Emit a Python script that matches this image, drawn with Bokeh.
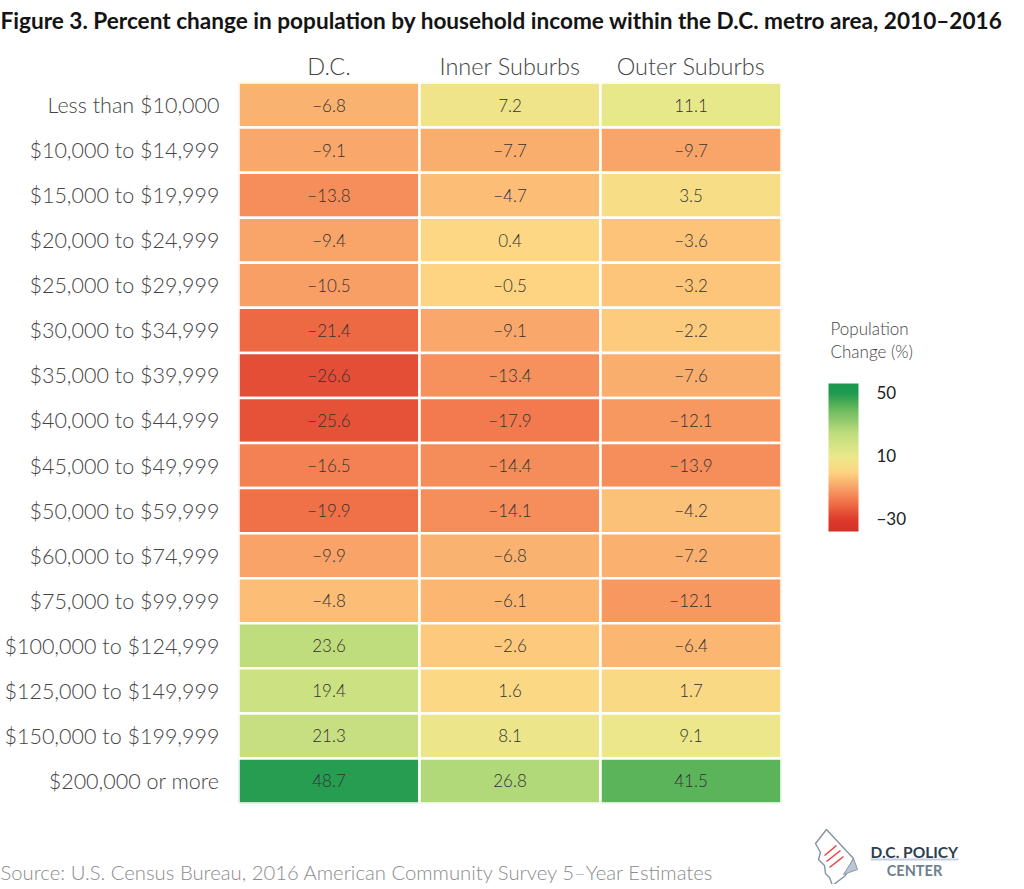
import numpy as np
from bokeh.plotting import figure
from bokeh.layouts import column, row
from bokeh.models import (ColumnDataSource, LinearColorMapper, ColorBar, FixedTicker, Range1d)
from bokeh.transform import transform
from bokeh.embed import file_html
from bokeh.resources import INLINE
from bokeh.core.properties import value

# ---------------- data ----------------
income_brackets = ["Less than $10,000", "$10,000 to $14,999", "$15,000 to $19,999",
                   "$20,000 to $24,999", "$25,000 to $29,999", "$30,000 to $34,999",
                   "$35,000 to $39,999", "$40,000 to $44,999", "$45,000 to $49,999",
                   "$50,000 to $59,999", "$60,000 to $74,999", "$75,000 to $99,999",
                   "$100,000 to $124,999", "$125,000 to $149,999", "$150,000 to $199,999",
                   "$200,000 or more"]
areas = ["D.C.", "Inner Suburbs", "Outer Suburbs"]
dc_change = [-6.8, -9.1, -13.8, -9.4, -10.5, -21.4, -26.6, -25.6, -16.5, -19.9, -9.9, -4.8,
             23.6, 19.4, 21.3, 48.7]
inner_change = [7.2, -7.7, -4.7, 0.4, -0.5, -9.1, -13.4, -17.9, -14.4, -14.1, -6.8, -6.1,
                -2.6, 1.6, 8.1, 26.8]
outer_change = [11.1, -9.7, 3.5, -3.6, -3.2, -2.2, -7.6, -12.1, -13.9, -4.2, -7.2, -12.1,
                -6.4, 1.7, 9.1, 41.5]
legend_ticks = [-30, 10, 50]

TITLE = "Figure 3. Percent change in population by household income within the D.C. metro area, 2010\u20132016"
SOURCE = "Source:  U.S. Census Bureau, 2016 American Community Survey 5\u2013Year Estimates"
LEGEND_TITLE = ["Population", "Change (%)"]

# ---------------- colour scale (style) ----------------
stop_vals = [-38, -30, -20, -10, 0, 10, 25, 40, 50, 56]
stop_cols = ["#d73027", "#dd3d2d", "#f07048", "#f9a368", "#fed683", "#e9e98b",
             "#bcdc7d", "#68b95c", "#1f9a50", "#1a9850"]
low, high = -38, 56


def hex2rgb(h):
    return [int(h[i:i + 2], 16) for i in (1, 3, 5)]


rgb = np.array([hex2rgb(c) for c in stop_cols], dtype=float)
palette = []
for v in np.linspace(low, high, 256):
    r, g, b = (np.interp(v, stop_vals, rgb[:, k]) for k in range(3))
    palette.append("#%02x%02x%02x" % (int(round(r)), int(round(g)), int(round(b))))
mapper = LinearColorMapper(palette=palette, low=low, high=high)

LIGHT = "Lato Light"
FONT = "Lato"
W = 1016
H_HEAD, H_MAIN, H_FOOT = 48, 760, 76
B_TOP, B_BOT = 34, 5
W_MAIN = 789
W_LEG = W - W_MAIN


def blank(width, height, y0=0, y1=None):
    if y1 is None:
        y1 = height
    f = figure(width=width, height=height, x_range=Range1d(0, width),
               y_range=Range1d(y1, y0), output_backend="svg", toolbar_location=None,
               min_border=0, outline_line_color=None, title=None)
    f.axis.visible = False
    f.grid.visible = False
    f.background_fill_color = "white"
    f.border_fill_color = "white"
    return f


# ---------------- header ----------------
head = blank(W, H_HEAD)
head.text(x=[0], y=[20], text=[TITLE], text_font=value(FONT), text_font_style="bold",
          text_font_size="22.6px", text_color="#141414", text_baseline="middle")

# ---------------- heatmap ----------------
xs, ys, vs, labels = [], [], [], []
for area, series in zip(areas, [dc_change, inner_change, outer_change]):
    for inc, v in zip(income_brackets, series):
        xs.append(area)
        ys.append(inc)
        vs.append(v)
        labels.append(("%.1f" % v).replace("-", "\u2212"))
src = ColumnDataSource(dict(area=xs, income=ys, val=vs, label=labels))

p = figure(width=W_MAIN, height=H_MAIN, x_range=areas, y_range=list(reversed(income_brackets)),
           x_axis_location="above", output_backend="svg", toolbar_location=None,
           min_border_left=238, min_border_right=8, min_border_top=B_TOP,
           min_border_bottom=B_BOT, title=None)
p.outline_line_color = None
p.grid.grid_line_color = None
p.background_fill_color = "white"
p.border_fill_color = "white"

p.rect(x="area", y="income", width=1, height=1, source=src,
       fill_color=transform("val", mapper), line_color="white", line_width=2.5)
p.text(x="area", y="income", text="label", source=src, text_align="center",
       text_baseline="middle", text_font=value(LIGHT), text_font_size="17px",
       text_color="#333333")

for ax in (p.xaxis, p.yaxis):
    ax.axis_line_color = None
    ax.major_tick_line_color = None
    ax.minor_tick_line_color = None
    ax.major_tick_out = 0
    ax.major_tick_in = 0
    ax.major_label_text_font = LIGHT
    ax.major_label_text_color = "#444444"
p.yaxis.major_label_text_font_size = "21.5px"
p.xaxis.major_label_text_font_size = "23.5px"
p.yaxis.major_label_standoff = 19
p.xaxis.major_label_standoff = 3

# ---------------- legend ----------------
# its frame is aligned with the heatmap frame (rows of plots share borders)
leg = blank(W_LEG, H_MAIN, y0=B_TOP, y1=H_MAIN - B_BOT)
leg.min_border_top = B_TOP
leg.min_border_bottom = B_BOT
cb = ColorBar(color_mapper=mapper, ticker=FixedTicker(ticks=legend_ticks),
              major_label_overrides={-30: "\u221230", 10: "10", 50: "50"},
              width=30, height=148,
              major_label_text_font=FONT, major_label_text_font_size="17px",
              major_label_text_color="#222222", label_standoff=18,
              major_tick_line_color=None, bar_line_color=None,
              background_fill_color=None, border_line_color=None,
              padding=0, location=(39, H_MAIN - B_BOT - 483))
leg.add_layout(cb, "center")
leg.text(x=[41, 41], y=[280, 303], text=LEGEND_TITLE, text_font=value(LIGHT),
         text_font_size="17px", text_color="#444444", text_baseline="middle")

# ---------------- footer ----------------
foot = blank(W, H_FOOT)
foot.text(x=[0], y=[63], text=[SOURCE], text_font=value(LIGHT), text_font_size="20.3px",
          text_color="#8c8c8c", text_baseline="middle")
# logo (decoration)
oy = 808 + 3
outline_x = [815, 826, 853, 845, 832, 829, 825, 824, 818, 820]
outline_y = [846, 832, 861, 878, 888, 880, 876, 868, 862, 855]
foot.patch(outline_x, [y - oy for y in outline_y],
           fill_color="white", line_color="#8a96a3", line_width=1.5)
foot.patch([853, 857, 843], [861 - oy, 872 - oy, 877 - oy],
           fill_color="#b9c6d6", line_color="#8a96a3", line_width=1)
foot.segment(x0=[824, 826, 829], y0=[858 - oy, 864 - oy, 870 - oy],
             x1=[836, 840, 843], y1=[848 - oy, 853 - oy, 859 - oy],
             line_color="#e8413c", line_width=1.5)
foot.text(x=[870], y=[43], text=["D.C. POLICY"], text_font=value(FONT),
          text_font_style="bold", text_font_size="15.5px", text_color="#2d3e4f",
          text_baseline="middle")
foot.segment(x0=[870], y0=[51], x1=[958], y1=[51], line_color="#c5d0de", line_width=2)
foot.text(x=[914], y=[62], text=["CENTER"], text_font=value(FONT),
          text_font_style="bold", text_font_size="14.5px", text_color="#6e7f8f",
          text_baseline="middle", text_align="center")

layout = column(head, row(p, leg, spacing=0), foot, spacing=0)
open("out.html", "w").write(file_html(layout, INLINE))
